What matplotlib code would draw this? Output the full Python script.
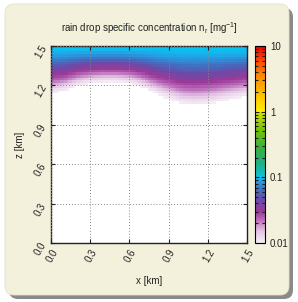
import numpy as np
import matplotlib
matplotlib.use("Agg")
import matplotlib.pyplot as plt
from matplotlib.colors import LinearSegmentedColormap, LogNorm
from matplotlib.patches import FancyBboxPatch
from matplotlib.ticker import LogLocator, FixedFormatter, FixedLocator

plt.rcParams['font.family'] = ['Liberation Sans', 'DejaVu Sans']
plt.rcParams['font.size'] = 7

# data
# height [km] where n_r drops to 0.01 /mg (lower edge of the rain), every 0.1 km in x
x_base = [0.0, 0.1, 0.2, 0.3, 0.4, 0.5, 0.6, 0.7, 0.8, 0.9, 1.0, 1.1, 1.2, 1.3, 1.4, 1.5]
z_base = [1.13, 1.15, 1.19, 1.21, 1.22, 1.22, 1.21, 1.18, 1.13, 1.09, 1.05, 1.04, 1.05, 1.07, 1.09, 1.11]
# n_r [1/mg] vs fraction of the way from that edge up to the domain top
frac = [0.0, 0.1, 0.2, 0.3, 0.4, 0.5, 0.6, 0.7, 0.8, 0.9, 1.0]
nr_prof = [0.0095, 0.012, 0.017, 0.024, 0.031, 0.041, 0.054, 0.070, 0.086, 0.097, 0.1]

x_ticks = [0.0, 0.3, 0.6, 0.9, 1.2, 1.5]
z_ticks = [0.0, 0.3, 0.6, 0.9, 1.2, 1.5]
cb_ticks = [0.01, 0.1, 1, 10]
cb_labels = ['0.01', '0.1', '1', '10']

# 20 m grid
dx = 0.02
xe = np.arange(0, 1.5 + dx / 2, dx)
ze = np.arange(0, 1.5 + dx / 2, dx)
xc = 0.5 * (xe[1:] + xe[:-1])
zc = 0.5 * (ze[1:] + ze[:-1])
base = np.interp(xc, x_base, z_base)
X, Z = np.meshgrid(xc, zc)
s = (Z - base[None, :]) / (1.5 - base[None, :])
nr = np.interp(s, frac, nr_prof, left=np.nan)
nr = np.ma.masked_invalid(nr)

nodes = [
    (0.0, '#f6eef6'), (0.06, '#e2c4e2'), (0.12, '#b868b8'), (0.16, '#9a3a98'),
    (0.22, '#6a4aa8'), (0.27, '#4070c0'), (0.31, '#2a98e0'), (0.333, '#08c4f2'),
    (0.345, '#10c0c8'), (0.40, '#20b088'), (0.48, '#38b040'), (0.58, '#78c400'),
    (0.66, '#cce400'), (0.667, '#ffee00'), (0.75, '#ffc400'), (0.85, '#ff8800'),
    (0.93, '#ff4400'), (1.0, '#ee0000'),
]
cmap = LinearSegmentedColormap.from_list('nr', nodes, N=512)
cmap.set_under('white')
cmap.set_bad('white')

fig = plt.figure(figsize=(2.98, 3.02), dpi=100)
fig.patch.set_facecolor('white')
W, H = 298.0, 302.0
shadow = FancyBboxPatch((9 / W, 3 / H), 284 / W, 291 / H, boxstyle='round,pad=0,rounding_size=0.03',
                        transform=fig.transFigure, facecolor='#8a8a8a', edgecolor='none', zorder=-2)
panel = FancyBboxPatch((5 / W, 7 / H), 284 / W, 291 / H, boxstyle='round,pad=0,rounding_size=0.03',
                       transform=fig.transFigure, facecolor='#f3f1dc', edgecolor='#e4e2cc', lw=0.6, zorder=-1)
fig.patches.extend([shadow, panel])

ax = fig.add_axes([51 / W, 1 - 243 / H, 196 / W, 197 / H])
norm = LogNorm(vmin=0.01, vmax=10)
pm = ax.pcolormesh(xe, ze, nr, cmap=cmap, norm=norm, shading='flat')
ax.set_xlim(0, 1.5)
ax.set_ylim(0, 1.5)
ax.set_xticks(x_ticks)
ax.set_yticks(z_ticks)
ax.set_xticklabels(['%.1f' % v for v in x_ticks], rotation=60, ha='right', va='top', rotation_mode='anchor')
ax.set_yticklabels(['%.1f' % v for v in z_ticks], rotation=60, ha='right', va='center', rotation_mode='anchor')
ax.tick_params(direction='in', length=3, width=0.8, top=True, right=True, labelsize=7, pad=3, colors='#222222')
ax.tick_params(axis='y', pad=5)
ax.grid(True, linestyle=(0, (1, 2)), color='#888888', linewidth=0.7)
ax.set_axisbelow(False)
for sp in ax.spines.values():
    sp.set_linewidth(1.0)
    sp.set_color('#222222')
ax.set_xlabel('x [km]', fontsize=7, labelpad=9, color='#222222')
ax.set_ylabel('z [km]', fontsize=7, labelpad=6, color='#222222')
ax.set_title(r'rain drop specific concentration n$\mathregular{_r}$ [mg$\mathregular{^{-1}}$]',
             fontsize=7, pad=10, color='#222222')

cax = fig.add_axes([255 / W, 1 - 243 / H, 10 / W, 197 / H])
cb = fig.colorbar(pm, cax=cax)
cb.outline.set_linewidth(0.8)
cax.yaxis.set_major_locator(FixedLocator(cb_ticks))
cax.yaxis.set_major_formatter(FixedFormatter(cb_labels))
cax.yaxis.set_minor_locator(LogLocator(base=10, subs=np.arange(2, 10)))
cax.tick_params(which='both', direction='in', left=True, right=True, labelleft=False, labelright=True,
                labelsize=7, width=0.8, colors='#222222')
cax.tick_params(which='major', length=3)
cax.tick_params(which='minor', length=2)

fig.savefig('out.png', dpi=100)
